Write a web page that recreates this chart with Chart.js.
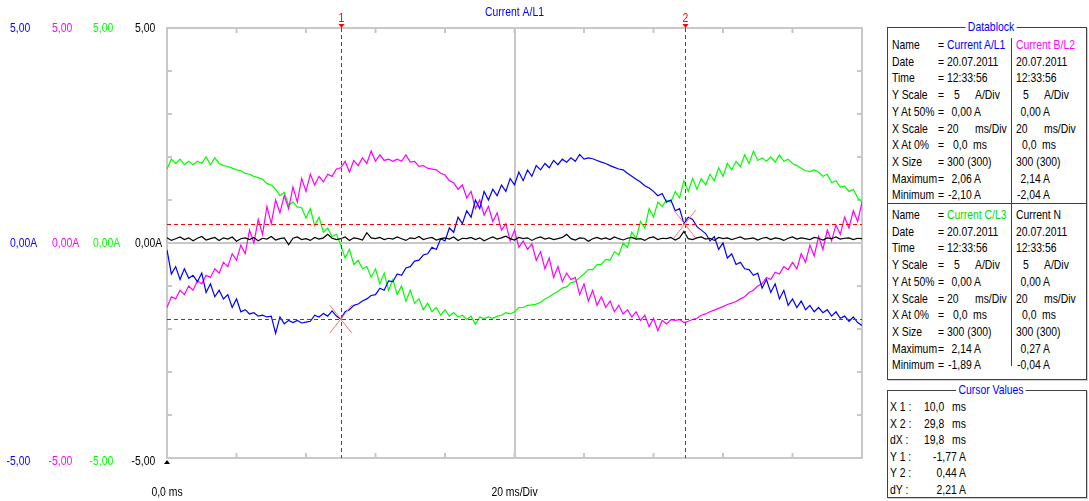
<!DOCTYPE html>
<html>
<head>
<meta charset="utf-8">
<title>Current A/L1</title>
<script src="https://cdn.jsdelivr.net/npm/chart.js@4.4.1/dist/chart.umd.min.js"></script>
<style>
body { margin:0; background:#fff; font-family:"Liberation Sans Narrow","Liberation Sans",Arial,sans-serif; font-size:13px; color:#000; }
#wrap { position:relative; width:1089px; height:501px; overflow:hidden; }
#scope { position:absolute; left:0; top:0; }
.box { position:absolute; border:1px solid #404040; box-shadow:1px 1px 0 #d0d0d0; }
.legend { position:absolute; top:-8px; background:#fff; color:#0000ff; padding:0 3px; transform:translateX(-50%) scaleX(0.8); line-height:14px; white-space:pre; }
.cell { position:absolute; white-space:pre; line-height:14px; transform:scaleX(0.8); transform-origin:0 0; }
.cell.r { text-align:right; transform-origin:100% 0; }
.rule { position:absolute; background:#404040; }
</style>
</head>
<body>
<div id="wrap">
<canvas id="scope" width="880" height="501"></canvas>
<div id="datablock" class="box" style="left:887px;top:27px;width:198px;height:351px"><span class="legend" style="left:103px">Datablock</span></div>
<div id="cursorbox" class="box" style="left:887px;top:390px;width:198px;height:106px"><span class="legend" style="left:103px">Cursor Values</span></div>
</div>
<script>
// samples, 0.25 ms apart (A)
const currentA = [
  -0.16,-0.72,-0.55,-0.85,-0.6,-0.82,-0.75,-0.9,
  -0.7,-1.15,-0.95,-1.25,-1.1,-1.3,-1.2,-1.5,
  -1.3,-1.6,-1.55,-1.65,-1.62,-1.7,-1.68,-1.72,
  -1.7,-2.1,-1.72,-1.88,-1.8,-1.85,-1.8,-1.86,
  -1.84,-1.82,-1.68,-1.72,-1.64,-1.7,-1.58,-1.7,
  -1.77,-1.6,-1.55,-1.45,-1.42,-1.35,-1.3,-1.22,
  -1.2,-1.05,-1.1,-0.88,-0.9,-0.72,-0.75,-0.58,
  -0.55,-0.42,-0.4,-0.28,-0.25,-0.1,-0.15,0.1,
  0.05,0.35,0.25,0.6,0.45,0.75,0.6,1.0,
  0.8,1.2,1.0,1.25,1.1,1.35,1.2,1.5,
  1.35,1.65,1.45,1.7,1.55,1.8,1.7,1.85,
  1.75,1.92,1.82,1.95,1.88,1.98,1.9,2.06,
  1.95,1.98,1.96,1.92,1.88,1.85,1.8,1.76,
  1.72,1.7,1.62,1.55,1.48,1.42,1.33,1.28,
  1.2,1.1,1.15,0.95,1.0,0.75,0.8,0.45,
  0.6,0.55,0.38,0.3,0.22,0.05,0.15,-0.15,
  0.0,-0.35,-0.25,-0.5,-0.45,-0.6,-0.62,-0.75,
  -0.7,-1.05,-0.85,-1.15,-0.95,-1.3,-1.1,-1.45,
  -1.3,-1.5,-1.35,-1.55,-1.45,-1.6,-1.5,-1.62,
  -1.55,-1.7,-1.6,-1.75,-1.7,-1.82,-1.72,-1.85,
  -1.92
];
const currentB = [
  -1.5,-1.25,-1.3,-1.1,-1.2,-1.0,-1.1,-0.88,
  -0.95,-0.75,-0.8,-0.6,-0.7,-0.45,-0.55,-0.25,
  -0.4,-0.05,-0.25,0.3,0.0,0.55,0.2,0.85,
  0.45,1.0,0.7,1.1,0.8,1.3,0.95,1.5,
  1.2,1.6,1.35,1.55,1.42,1.6,1.55,1.72,
  1.75,1.9,1.65,1.92,1.8,1.98,1.85,2.14,
  1.9,2.05,1.92,1.95,1.9,1.95,1.9,2.05,
  1.88,1.9,1.78,1.8,1.74,1.72,1.7,1.62,
  1.58,1.45,1.4,1.25,1.35,1.05,1.2,0.8,
  1.0,0.65,0.85,0.5,0.7,0.3,0.45,0.05,
  0.3,-0.1,0.05,-0.15,-0.02,-0.4,-0.2,-0.6,
  -0.35,-0.8,-0.55,-0.9,-0.7,-0.85,-0.8,-1.2,
  -0.95,-1.35,-1.1,-1.45,-1.25,-1.5,-1.35,-1.6,
  -1.45,-1.65,-1.55,-1.72,-1.6,-1.8,-1.68,-1.95,
  -1.75,-2.04,-1.8,-1.88,-1.78,-1.8,-1.78,-1.85,
  -1.82,-1.78,-1.75,-1.68,-1.65,-1.6,-1.56,-1.52,
  -1.48,-1.43,-1.4,-1.36,-1.3,-1.25,-1.15,-1.1,
  -1.0,-0.95,-0.8,-0.85,-0.68,-0.72,-0.55,-0.62,
  -0.45,-0.6,-0.25,-0.45,-0.05,-0.3,0.15,-0.15,
  0.3,0.05,0.42,0.2,0.6,0.35,0.75,0.5,
  0.95
];
const currentC = [
  1.72,1.95,1.85,1.95,1.82,1.9,1.82,1.9,
  1.85,2.0,1.82,1.98,1.85,1.8,1.78,1.74,
  1.7,1.68,1.62,1.6,1.55,1.52,1.48,1.38,
  1.35,1.25,1.1,1.18,0.88,0.95,0.84,0.82,
  0.58,0.8,0.4,0.6,0.25,0.35,0.15,0.2,
  -0.05,-0.35,-0.15,-0.5,-0.4,-0.6,-0.55,-0.8,
  -0.6,-0.95,-0.7,-1.1,-0.85,-1.2,-1.0,-1.35,
  -1.1,-1.4,-1.3,-1.55,-1.4,-1.6,-1.5,-1.68,
  -1.55,-1.7,-1.62,-1.72,-1.68,-1.78,-1.7,-1.89,
  -1.72,-1.76,-1.72,-1.75,-1.7,-1.68,-1.62,-1.65,
  -1.6,-1.5,-1.5,-1.45,-1.44,-1.42,-1.38,-1.3,
  -1.25,-1.18,-1.13,-1.05,-1.02,-0.92,-0.9,-0.8,
  -0.72,-0.62,-0.62,-0.5,-0.5,-0.38,-0.4,-0.2,
  -0.28,0.0,-0.1,0.25,0.1,0.5,0.35,0.8,
  0.6,0.95,0.85,1.0,0.95,1.2,1.05,1.45,
  1.2,1.5,1.25,1.5,1.35,1.6,1.45,1.75,
  1.55,1.85,1.7,1.9,1.78,2.05,1.85,2.14,
  1.92,1.98,1.9,2.0,1.88,2.05,1.9,1.95,
  1.85,1.8,1.74,1.68,1.66,1.7,1.65,1.55,
  1.6,1.4,1.45,1.3,1.32,1.2,1.25,1.05,
  0.95
];
const currentN = [
  0.12,0.06,0.1,0.14,0.08,0.12,0.05,0.11,0.15,0.07,0.1,0.13,0.06,0.12,0.09,0.14,0.04,0.1,0.12,0.08,
  0.13,0.05,0.11,0.09,0.15,0.07,0.1,0.12,-0.04,0.11,0.14,0.08,0.1,0.06,0.13,0.09,0.12,0.2,0.11,0.08,
  0.1,0.14,0.06,0.12,0.1,0.07,0.24,0.12,0.1,0.13,0.08,0.11,0.09,0.14,0.1,0.06,0.12,0.1,0.15,0.08,
  0.11,0.13,0.07,0.1,0.12,0.09,0.14,0.06,0.11,0.1,0.13,0.08,0.12,0.05,0.1,0.14,0.09,0.12,0.16,0.1,
  0.07,0.13,0.1,0.12,0.06,0.11,0.14,0.09,0.12,0.08,0.1,0.13,0.2,0.1,0.07,0.12,0.11,0.04,0.1,0.13,
  0.09,0.12,0.08,0.14,0.1,0.07,0.11,0.13,0.09,0.1,0.06,0.12,0.14,0.08,0.11,0.1,0.13,0.07,0.12,0.27,
  0.1,0.08,0.12,0.14,0.09,0.11,0.06,0.13,0.1,0.12,0.08,0.11,0.14,0.09,0.1,0.12,0.07,0.11,0.13,0.08,
  0.12,0.1,0.06,0.11,0.14,0.09,0.12,0.1,0.08,0.13,0.11,0.07,0.12,0.1,0.14,0.09,0.11,0.12,0.08,0.11,
  0.1
];
const sampleStepMs = 0.25;

const seriesNames = ['Current A/L1', 'Current B/L2', 'Current C/L3', 'Current N'];
const seriesColors = ['#0000ff', '#ff00ff', '#00ff00', '#000000'];
const seriesMax = [2.06, 2.14, 2.14, 0.27];
const seriesMin = [-2.10, -2.04, -1.89, -0.04];

const xMinMs = 0, xMaxMs = 40, xTickMs = 4, xDivMs = 20;
const yMinA = -5, yMaxA = 5, yTickA = 1, yDivA = 5;
const recordDate = '20.07.2011';
const recordTime = '12:33:56';
const recordSize = '300 (300)';

const cursorTimesMs = [10.0, 29.8];
const cursorValuesA = [-1.77, 0.44];

const comma = (v, d) => v.toFixed(d).replace('.', ',');
const FONT = '13px "Liberation Sans Narrow", "Liberation Sans", Arial, sans-serif';
const NARROW = 0.8;
const labelColumns = [10, 52, 93, 135];

// condensed text, the scope software uses a narrow bitmap font
function narrowText(ctx, text, x, y, align) {
  ctx.save();
  ctx.translate(x, y);
  ctx.scale(NARROW, 1);
  ctx.textAlign = align;
  ctx.fillText(text, 0, 0);
  ctx.restore();
}

const scopeDecor = {
  id: 'scopeDecor',
  beforeDatasetsDraw(chart) {
    const { ctx, chartArea: a, scales: { x, y } } = chart;
    ctx.save();
    ctx.strokeStyle = '#c8c8c8';
    ctx.lineWidth = 2;
    ctx.strokeRect(a.left, a.top, a.width, a.height);
    ctx.beginPath();
    y.ticks.forEach(t => {
      const py = y.getPixelForValue(t.value);
      ctx.moveTo(a.left, py); ctx.lineTo(a.left + 5, py);
      ctx.moveTo(a.right, py); ctx.lineTo(a.right - 5, py);
    });
    x.ticks.forEach(t => {
      const px = x.getPixelForValue(t.value);
      ctx.moveTo(px, a.top); ctx.lineTo(px, a.top + 5);
      ctx.moveTo(px, a.bottom); ctx.lineTo(px, a.bottom - 5);
    });
    ctx.stroke();
    ctx.restore();
  },
  afterDatasetsDraw(chart) {
    const { ctx, chartArea: a, scales: { x, y } } = chart;
    ctx.save();
    // cursor lines
    ctx.strokeStyle = 'rgb(255,0,0)';
    ctx.lineWidth = 1;
    ctx.setLineDash([4, 3]);
    cursorTimesMs.forEach(t => {
      const px = Math.round(x.getPixelForValue(t)) + 0.5;
      ctx.beginPath();
      ctx.moveTo(px, a.top); ctx.lineTo(px, a.bottom);
      ctx.stroke();
    });
    cursorValuesA.forEach(v => {
      const py = Math.round(y.getPixelForValue(v)) + 0.5;
      ctx.beginPath();
      ctx.moveTo(a.left, py); ctx.lineTo(a.right, py);
      ctx.stroke();
    });
    ctx.setLineDash([]);
    // cross markers
    ctx.strokeStyle = '#ff7070';
    ctx.beginPath();
    cursorTimesMs.forEach((t, i) => {
      const px = x.getPixelForValue(t), py = y.getPixelForValue(cursorValuesA[i]);
      ctx.moveTo(px - 11, py - 14); ctx.lineTo(px + 11, py + 14);
      ctx.moveTo(px + 11, py - 14); ctx.lineTo(px - 11, py + 14);
    });
    ctx.stroke();
    // cursor numbers + little arrows
    ctx.font = FONT;
    ctx.textBaseline = 'middle';
    ctx.fillStyle = '#ff0000';
    cursorTimesMs.forEach((t, i) => {
      const px = Math.round(x.getPixelForValue(t)) + 0.5;
      narrowText(ctx, String(i + 1), px, a.top - 10, 'center');
      ctx.beginPath();
      ctx.moveTo(px - 3, a.top - 4); ctx.lineTo(px + 3, a.top - 4); ctx.lineTo(px, a.top);
      ctx.fill();
    });
    // title
    ctx.fillStyle = seriesColors[0];
    narrowText(ctx, seriesNames[0], x.getPixelForValue(xDivMs), 12, 'center');
    // left scale labels per channel
    const top = y.getPixelForValue(yMaxA), mid = y.getPixelForValue(0), bot = y.getPixelForValue(yMinA);
    const w = ctx.measureText(comma(yMaxA, 2)).width * NARROW;
    seriesColors.forEach((c, i) => {
      const lx = labelColumns[i];
      ctx.fillStyle = c;
      narrowText(ctx, comma(yMaxA, 2), lx + w, top, 'right');
      narrowText(ctx, comma(yMinA, 2), lx + w, bot + 3, 'right');
      narrowText(ctx, comma(0, 2) + 'A', lx, mid, 'left');
    });
    // time labels
    ctx.fillStyle = '#000';
    narrowText(ctx, comma(xMinMs, 1) + ' ms', x.getPixelForValue(xMinMs), a.bottom + 34, 'center');
    narrowText(ctx, xDivMs + ' ms/Div', x.getPixelForValue(xDivMs), a.bottom + 34, 'center');
    // origin marker
    const ox = x.getPixelForValue(xMinMs);
    ctx.beginPath();
    ctx.moveTo(ox - 3, a.bottom + 6); ctx.lineTo(ox + 3, a.bottom + 6); ctx.lineTo(ox, a.bottom + 2);
    ctx.fill();
    ctx.restore();
  }
};

const toPoints = arr => arr.map((v, i) => ({ x: i * sampleStepMs, y: v }));
const traces = [currentN, currentA, currentB, currentC];
const traceColors = [seriesColors[3], seriesColors[0], seriesColors[1], seriesColors[2]];
const traceNames = [seriesNames[3], seriesNames[0], seriesNames[1], seriesNames[2]];

new Chart(document.getElementById('scope').getContext('2d'), {
  type: 'line',
  data: {
    datasets: traces.map((arr, i) => ({
      label: traceNames[i],
      data: toPoints(arr),
      borderColor: traceColors[i],
      borderWidth: 1.2,
      pointRadius: 0,
      tension: 0
    }))
  },
  options: {
    responsive: false,
    animation: false,
    layout: { padding: { left: 167, right: 18, top: 28, bottom: 43 } },
    plugins: { legend: { display: false }, tooltip: { enabled: false } },
    scales: {
      x: {
        type: 'linear', min: xMinMs, max: xMaxMs,
        ticks: { stepSize: xTickMs, display: false },
        grid: { color: c => c.tick.value === xDivMs ? '#c8c8c8' : 'rgba(0,0,0,0)', lineWidth: 2, drawTicks: false },
        border: { display: false },
        afterFit: s => { s.height = 0; }
      },
      y: {
        min: yMinA, max: yMaxA,
        ticks: { stepSize: yTickA, display: false },
        grid: { color: c => c.tick.value === 0 ? '#c8c8c8' : 'rgba(0,0,0,0)', lineWidth: 2, drawTicks: false },
        border: { display: false },
        afterFit: s => { s.width = 0; }
      }
    }
  },
  plugins: [scopeDecor]
});

// ---- data block on the right ----
function cell(parent, text, left, top, color, alignRight) {
  const el = document.createElement('div');
  el.className = alignRight ? 'cell r' : 'cell';
  el.textContent = text;
  el.style.top = top + 'px';
  if (alignRight) { el.style.left = (left - 80) + 'px'; el.style.width = '80px'; }
  else el.style.left = left + 'px';
  if (color) el.style.color = color;
  parent.appendChild(el);
}
function rule(parent, left, top, w, h) {
  const el = document.createElement('div');
  el.className = 'rule';
  Object.assign(el.style, { left: left + 'px', top: top + 'px', width: w + 'px', height: h + 'px' });
  parent.appendChild(el);
}

const rowLabels = ['Name', 'Date', 'Time', 'Y Scale', 'Y At 50%', 'X Scale', 'X At 0%', 'X Size', 'Maximum', 'Minimum'];
const db = document.getElementById('datablock');
const colStarts = [59, 128];
[0, 1].forEach(b => {
  const blockTop = b * 170;
  rowLabels.forEach((lab, r) => {
    const ty = blockTop + 10 + r * 16.7;
    cell(db, lab, 4, ty);
    cell(db, '=', 50, ty);
    colStarts.forEach((cx, j) => {
      const s = b * 2 + j;
      switch (r) {
        case 0: cell(db, seriesNames[s], cx, ty, seriesColors[s] === '#00ff00' ? '#00e000' : seriesColors[s]); break;
        case 1: cell(db, recordDate, cx, ty); break;
        case 2: cell(db, recordTime, cx, ty); break;
        case 3: cell(db, String(yDivA), cx + 7, ty); cell(db, 'A/Div', cx + 28, ty); break;
        case 4: cell(db, comma(0, 2) + ' A', cx + 34, ty, null, true); break;
        case 5: cell(db, String(xDivMs), cx, ty); cell(db, 'ms/Div', cx + 28, ty); break;
        case 6: cell(db, comma(xMinMs, 1), cx + 6, ty); cell(db, 'ms', cx + 26, ty); break;
        case 7: cell(db, recordSize, cx, ty); break;
        case 8: cell(db, comma(seriesMax[s], 2) + ' A', cx + 34, ty, null, true); break;
        case 9: cell(db, comma(seriesMin[s], 2) + ' A', cx + 34, ty, null, true); break;
      }
    });
  });
  rule(db, 123, blockTop + (b ? 6 : 10), 1, b ? 162 : 165);
});
rule(db, 0, 175, 198, 1);

// ---- cursor values ----
const cb = document.getElementById('cursorbox');
const dX = cursorTimesMs[1] - cursorTimesMs[0];
const dY = cursorValuesA[1] - cursorValuesA[0];
const msRows = [['X 1 :', cursorTimesMs[0]], ['X 2 :', cursorTimesMs[1]], ['dX :', dX]];
const aRows = [['Y 1 :', cursorValuesA[0]], ['Y 2 :', cursorValuesA[1]], ['dY :', dY]];
msRows.forEach((row, i) => {
  const ty = 9 + i * 16.5;
  cell(cb, row[0], 2, ty);
  cell(cb, comma(row[1], 1), 36, ty);
  cell(cb, 'ms', 64, ty);
});
aRows.forEach((row, i) => {
  const ty = 9 + (i + 3) * 16.5;
  cell(cb, row[0], 2, ty);
  cell(cb, comma(row[1], 2) + ' A', 78, ty, null, true);
});
</script>
</body>
</html>
